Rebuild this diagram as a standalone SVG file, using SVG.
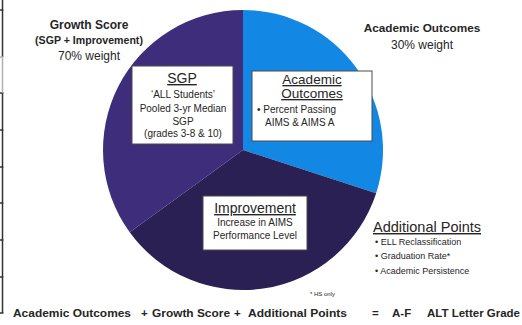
<svg xmlns="http://www.w3.org/2000/svg" width="522" height="325" viewBox="0 0 522 325">
<style>
text{font-family:"Liberation Sans",Arial,sans-serif;fill:#262626}
.b{font-weight:bold}
.c{text-anchor:middle}
.u{text-decoration:underline}
.box{fill:#fff;stroke:#4a4a4a;stroke-width:1}
.tl{stroke:#333;stroke-width:1.5;fill:none}
</style>
<rect width="522" height="325" fill="#fff"/>
<g id="table-edge">
<path class="tl" d="M2.5,0V57M2.5,93V313M0,10H3.5M0,93H3.5M0,130H3.5M0,167H3.5M0,203H3.5M0,240H3.5M0,277H3.5M0,313H3.5"/>
<path d="M2.5,57V93M0,57H3.5" stroke="#b0b0b0" stroke-width="1.5" fill="none"/>
</g>
<g id="pie">
<path id="slice-academic" d="M243,150 L243,10 A140,140 0 0 1 376.15,193.26 Z" fill="#1288e4"/>
<path id="slice-improvement" d="M243,150 L376.15,193.26 A140,140 0 0 1 129.74,232.29 Z" fill="#2a2053"/>
<path id="slice-sgp" d="M243,150 L129.74,232.29 A140,140 0 0 1 243,10 Z" fill="#3d2d7a"/>
</g>
<g id="growth-label">
<text class="b c" x="89" y="29" font-size="12">Growth Score</text>
<text class="b c" x="89" y="44" font-size="10.6">(SGP + Improvement)</text>
<text class="c" x="89" y="60" font-size="12">70% weight</text>
</g>
<g id="academic-label">
<text class="b c" x="422" y="32" font-size="11.8">Academic Outcomes</text>
<text class="c" x="422" y="49" font-size="12">30% weight</text>
</g>
<g id="sgp-box">
<rect class="box" x="132" y="66" width="101" height="78"/>
<text class="c u" x="182" y="83" font-size="14">SGP</text>
<text class="c" x="183" y="98" font-size="10">‘ALL Students’</text>
<text class="c" x="183" y="112" font-size="10">Pooled  3-yr Median</text>
<text class="c" x="183" y="125" font-size="10">SGP</text>
<text class="c" x="183" y="137" font-size="10">(grades 3-8 &amp; 10)</text>
</g>
<g id="academic-box">
<rect class="box" x="252" y="71" width="120" height="70"/>
<text class="c u" x="312" y="84" font-size="13.5">Academic</text>
<text class="c u" x="312" y="98" font-size="13.5">Outcomes</text>
<text x="257" y="113" font-size="10">• Percent  Passing</text>
<text x="265" y="126" font-size="10">AIMS &amp; AIMS A</text>
</g>
<g id="improvement-box">
<rect class="box" x="203" y="196" width="104" height="54"/>
<text class="c u" x="255" y="213" font-size="14">Improvement</text>
<text class="c" x="255" y="226" font-size="10">Increase in AIMS</text>
<text class="c" x="255" y="239" font-size="10">Performance Level</text>
</g>
<g id="additional-points">
<text class="u" x="373" y="232" font-size="14.5" fill="#333">Additional Points</text>
<text x="375" y="245" font-size="9">• ELL Reclassification</text>
<text x="375" y="259" font-size="9">• Graduation Rate*</text>
<text x="375" y="274" font-size="9">• Academic Persistence</text>
<text x="310" y="296" font-size="6">* HS only</text>
</g>
<g id="formula" font-size="11.5">
<text class="b" x="13" y="317" textLength="118" lengthAdjust="spacingAndGlyphs">Academic Outcomes</text>
<text class="b" x="141" y="317">+</text>
<text class="b" x="152" y="317" textLength="78" lengthAdjust="spacingAndGlyphs">Growth Score</text>
<text class="b" x="234" y="317">+</text>
<text class="b" x="248" y="317" textLength="99" lengthAdjust="spacingAndGlyphs">Additional Points</text>
<text class="b" x="372" y="317">=</text>
<text class="b" x="392" y="317">A-F</text>
<text class="b" x="427" y="317" textLength="93" lengthAdjust="spacingAndGlyphs">ALT Letter Grade</text>
</g>
</svg>
